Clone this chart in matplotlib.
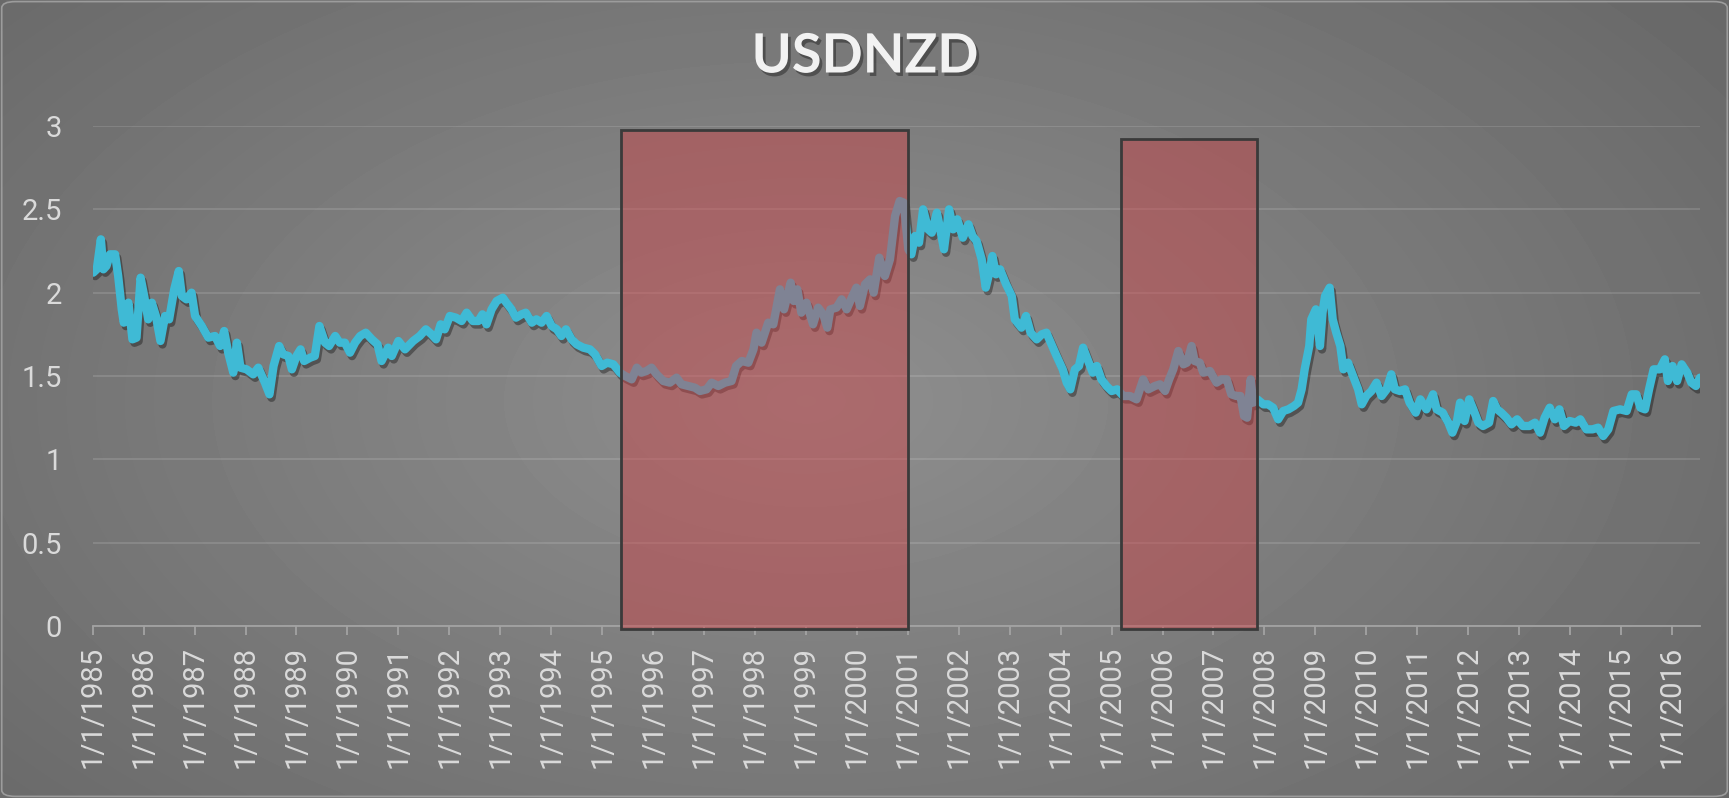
import numpy as np
import matplotlib
matplotlib.use("Agg")
import matplotlib.pyplot as plt
import matplotlib.patheffects as pe
from matplotlib.patches import Rectangle, FancyBboxPatch

plt.rcParams["font.family"] = ["Roboto", "DejaVu Sans"]

title = "USDNZD"
start_year = 1985
end_year = 2016.55
tick_years = list(range(1985, 2017))
tick_labels = [f"1/1/{y}" for y in tick_years]
y_ticks = [0, 0.5, 1, 1.5, 2, 2.5, 3]
y_labels = ["0", "0.5", "1", "1.5", "2", "2.5", "3"]

# years since 1/1/1985 and the USD/NZD rate
t_1985 = [0.01, 0.08, 0.16, 0.21, 0.27, 0.34, 0.44, 0.50, 0.57, 0.61, 0.70, 0.78, 0.86, 0.94,
          1.01, 1.09, 1.16, 1.24, 1.33, 1.42, 1.50, 1.60, 1.69, 1.75, 1.84, 1.94, 2.01, 2.14,
          2.27, 2.40, 2.50, 2.58, 2.66, 2.76, 2.83, 2.90, 3.02, 3.15, 3.25, 3.38, 3.47, 3.55,
          3.66, 3.74, 3.84, 3.91, 4.00, 4.08, 4.15, 4.27, 4.36, 4.45, 4.56, 4.64, 4.76, 4.85, 4.95]
v_1985 = [2.12, 2.14, 2.32, 2.14, 2.16, 2.23, 2.23, 2.10, 1.90, 1.82, 1.94, 1.72, 1.73, 2.09,
          1.98, 1.84, 1.94, 1.86, 1.71, 1.86, 1.84, 2.02, 2.13, 1.98, 1.96, 2.00, 1.86, 1.80,
          1.73, 1.74, 1.68, 1.77, 1.64, 1.52, 1.70, 1.55, 1.54, 1.51, 1.55, 1.46, 1.39, 1.56,
          1.68, 1.63, 1.62, 1.54, 1.62, 1.66, 1.59, 1.61, 1.62, 1.80, 1.70, 1.68, 1.74, 1.70, 1.70]

t_1990 = [5.05, 5.15, 5.25, 5.36, 5.48, 5.59, 5.67, 5.80, 5.87, 6.00, 6.13, 6.29, 6.42, 6.54,
          6.65, 6.74, 6.83, 6.91, 7.01, 7.13, 7.24, 7.34, 7.46, 7.57, 7.65, 7.73, 7.83, 7.93,
          8.05, 8.12, 8.22, 8.31, 8.42, 8.50, 8.62, 8.71, 8.81, 8.91, 9.01, 9.11, 9.20, 9.29,
          9.40, 9.50, 9.63, 9.76, 9.86, 9.99, 10.10, 10.22]
v_1990 = [1.64, 1.70, 1.74, 1.76, 1.72, 1.69, 1.59, 1.67, 1.62, 1.71, 1.66, 1.71, 1.74, 1.78,
          1.75, 1.72, 1.81, 1.78, 1.86, 1.85, 1.83, 1.88, 1.83, 1.83, 1.87, 1.81, 1.90, 1.95,
          1.97, 1.94, 1.90, 1.85, 1.87, 1.88, 1.82, 1.84, 1.82, 1.86, 1.80, 1.78, 1.74, 1.78,
          1.72, 1.69, 1.67, 1.66, 1.63, 1.56, 1.58, 1.57]

t_1995 = [10.35, 10.45, 10.58, 10.68, 10.77, 10.87, 10.97, 11.07, 11.20, 11.33, 11.46, 11.56,
          11.69, 11.82, 11.92, 12.05, 12.15, 12.28, 12.41, 12.54, 12.63, 12.74, 12.87, 12.97,
          13.03, 13.13, 13.26, 13.36, 13.49, 13.57, 13.70, 13.76, 13.83, 13.91, 14.01, 14.14,
          14.24, 14.34, 14.42, 14.48, 14.60, 14.70, 14.80, 14.90, 14.99, 15.06, 15.16, 15.26,
          15.33, 15.44, 15.55, 15.65, 15.75, 15.84, 15.92]
v_1995 = [1.52, 1.50, 1.48, 1.55, 1.52, 1.53, 1.55, 1.51, 1.47, 1.46, 1.49, 1.45,
          1.44, 1.43, 1.41, 1.42, 1.46, 1.44, 1.46, 1.47, 1.56, 1.59, 1.58, 1.66,
          1.76, 1.70, 1.82, 1.81, 2.02, 1.90, 2.06, 1.95, 2.02, 1.88, 1.94, 1.81,
          1.91, 1.87, 1.79, 1.90, 1.91, 1.96, 1.90, 1.97, 2.03, 1.92, 2.05, 2.08,
          2.00, 2.21, 2.10, 2.20, 2.46, 2.55, 2.54]

t_2001 = [16.01, 16.07, 16.14, 16.22, 16.30, 16.40, 16.47, 16.57, 16.63, 16.71, 16.81, 16.89,
          16.97, 17.08, 17.19, 17.27, 17.35, 17.45, 17.53, 17.60, 17.66, 17.73, 17.81, 17.93,
          18.04, 18.10, 18.23, 18.32, 18.41, 18.53, 18.63, 18.72, 18.82, 18.92, 19.04, 19.12,
          19.19, 19.28, 19.36, 19.44, 19.54, 19.63, 19.71, 19.80, 19.90, 20.00, 20.11, 20.23,
          20.36, 20.49, 20.62, 20.72, 20.85, 20.95, 21.05, 21.13]
v_2001 = [2.26, 2.23, 2.34, 2.30, 2.50, 2.38, 2.36, 2.48, 2.39, 2.26, 2.50, 2.38,
          2.44, 2.33, 2.41, 2.34, 2.31, 2.20, 2.03, 2.12, 2.22, 2.11, 2.14, 2.05,
          1.98, 1.84, 1.79, 1.86, 1.76, 1.72, 1.75, 1.76, 1.69, 1.62, 1.54, 1.46,
          1.42, 1.54, 1.56, 1.67, 1.59, 1.52, 1.56, 1.48, 1.44, 1.41, 1.42, 1.38,
          1.38, 1.36, 1.48, 1.42, 1.44, 1.45, 1.41, 1.48]

t_2006 = [21.21, 21.31, 21.41, 21.48, 21.57, 21.63, 21.73, 21.80, 21.93, 22.06, 22.16, 22.26,
          22.35, 22.45, 22.53, 22.60, 22.66, 22.73, 22.78, 22.86, 22.98, 23.07, 23.17, 23.27,
          23.37, 23.47, 23.58, 23.66, 23.73, 23.79, 23.88, 23.92, 24.01, 24.09, 24.14, 24.19,
          24.28, 24.34, 24.41, 24.49, 24.55, 24.64, 24.74, 24.84, 24.91, 25.00, 25.10, 25.20,
          25.30, 25.40, 25.49, 25.56, 25.66, 25.76, 25.85, 25.97, 26.06, 26.18, 26.31, 26.38]
v_2006 = [1.54, 1.65, 1.57, 1.58, 1.68, 1.59, 1.58, 1.52, 1.53, 1.46, 1.48, 1.48,
          1.39, 1.38, 1.38, 1.26, 1.25, 1.48, 1.34, 1.36, 1.33, 1.33, 1.31, 1.24,
          1.29, 1.30, 1.32, 1.34, 1.42, 1.54, 1.68, 1.84, 1.90, 1.68, 1.88, 1.98,
          2.03, 1.84, 1.76, 1.68, 1.54, 1.58, 1.50, 1.42, 1.33, 1.38, 1.41, 1.46,
          1.38, 1.42, 1.51, 1.42, 1.41, 1.42, 1.34, 1.28, 1.36, 1.30, 1.39, 1.30]

t_2011 = [26.50, 26.61, 26.69, 26.78, 26.84, 26.93, 27.02, 27.10, 27.20, 27.29, 27.41, 27.49,
          27.57, 27.65, 27.75, 27.85, 27.96, 28.07, 28.20, 28.31, 28.41, 28.50, 28.60, 28.70,
          28.79, 28.88, 28.99, 29.11, 29.20, 29.32, 29.44, 29.55, 29.65, 29.75, 29.85, 29.98,
          30.11, 30.21, 30.30, 30.38, 30.47, 30.55, 30.64, 30.76, 30.86, 30.92, 31.01, 31.10,
          31.19, 31.30, 31.38, 31.47, 31.55]
v_2011 = [1.28, 1.22, 1.16, 1.23, 1.34, 1.23, 1.36, 1.30, 1.22, 1.20, 1.22, 1.35,
          1.30, 1.28, 1.25, 1.21, 1.24, 1.20, 1.20, 1.22, 1.16, 1.25, 1.31, 1.24,
          1.30, 1.20, 1.23, 1.22, 1.24, 1.18, 1.18, 1.19, 1.14, 1.18, 1.29, 1.30,
          1.29, 1.39, 1.39, 1.31, 1.30, 1.42, 1.54, 1.54, 1.60, 1.47, 1.56, 1.47,
          1.57, 1.52, 1.46, 1.44, 1.49]

# highlighted periods (decimal years) and box heights
shade_start = [1995.37, 2005.18]
shade_end = [2001.01, 2007.85]
shade_top = [2.975, 2.92]

years = start_year + np.array(t_1985 + t_1990 + t_1995 + t_2001 + t_2006 + t_2011)
rate = np.array(v_1985 + v_1990 + v_1995 + v_2001 + v_2006 + v_2011)

W, H = 1729, 798
fig = plt.figure(figsize=(W / 100, H / 100), dpi=100)

# grey radial background
bg = fig.add_axes([0, 0, 1, 1], zorder=0)
gy, gx = np.mgrid[0:200, 0:430]
r = np.sqrt(((gx - 200) / 260.0) ** 2 + ((gy - 100) / 150.0) ** 2)
bg.imshow(0.56 - 0.14 * np.clip(r, 0, 1.3), cmap="gray", vmin=0, vmax=1,
          extent=[0, 1, 0, 1], aspect="auto", interpolation="bicubic")
bg.axis("off")
fig.patches.append(FancyBboxPatch((0.001, 0.002), 0.998, 0.996,
                                  boxstyle="round,pad=0,rounding_size=0.008",
                                  transform=fig.transFigure, fill=False,
                                  edgecolor="#9C9C9C", lw=1.2))

ax = fig.add_axes([92.7 / W, 172 / H, (1700 - 92.7) / W, 500 / H], zorder=1)
ax.set_facecolor("none")

ax.plot(years, rate, color="#3FBAD5", lw=6, solid_joinstyle="round",
        solid_capstyle="round", zorder=3,
        path_effects=[pe.SimpleLineShadow(offset=(1.5, -2.5), shadow_color="black", alpha=0.35),
                      pe.Normal()])

for s, e, top in zip(shade_start, shade_end, shade_top):
    ax.add_patch(Rectangle((s, -0.015), e - s, top + 0.015,
                           facecolor=(0.81, 0.25, 0.27, 0.45), edgecolor="#3A3A3A",
                           lw=2, zorder=4, clip_on=False))

ax.set_xlim(start_year, end_year)
ax.set_ylim(0, 3)
ax.set_xticks(tick_years)
ax.set_xticklabels(tick_labels, rotation=90)
ax.set_yticks(y_ticks)
ax.set_yticklabels(y_labels)
ax.yaxis.grid(True, color="white", alpha=0.13, lw=1.4)
ax.set_axisbelow(True)

for side in ["top", "right", "left"]:
    ax.spines[side].set_visible(False)
ax.spines["bottom"].set_color("#A3A3A3")
ax.spines["bottom"].set_linewidth(1.3)
ax.tick_params(axis="x", direction="out", length=6.5, width=1.3, color="#A3A3A3",
               pad=8, labelsize=21, labelcolor="#DADADA")
ax.tick_params(axis="y", length=0, pad=22, labelsize=21, labelcolor="#DADADA")

fig.text(865 / W, 1 - 57 / H, title, ha="center", va="center", fontsize=39,
         fontweight="bold", family=["Lato", "DejaVu Sans"], color="#F2F2F2",
         path_effects=[pe.withSimplePatchShadow(offset=(2, -2.5), shadow_rgbFace="black",
                                                alpha=0.35)])

fig.savefig("out.png", dpi=100)
